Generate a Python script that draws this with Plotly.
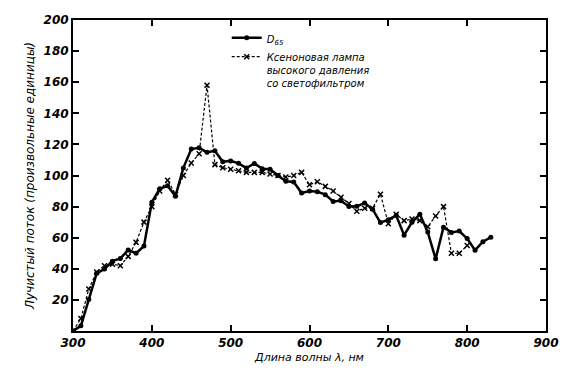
import plotly.graph_objects as go

wl_d65 = [300, 310, 320, 330, 340, 350, 360, 370, 380, 390, 400, 410, 420, 430, 440,
          450, 460, 470, 480, 490, 500, 510, 520, 530, 540, 550, 560, 570, 580, 590,
          600, 610, 620, 630, 640, 650, 660, 670, 680, 690, 700, 710, 720, 730, 740,
          750, 760, 770, 780, 790, 800, 810, 820, 830]
d65 = [0.0, 3.3, 20.2, 37.1, 39.9, 44.9, 46.6, 52.1, 50.0, 54.6, 82.8, 91.5, 93.4, 86.7, 104.9,
       117.0, 117.8, 114.9, 115.9, 108.8, 109.4, 107.8, 104.8, 107.7, 104.4, 104.0, 100.0, 96.3, 95.8, 88.7,
       90.0, 89.6, 87.7, 83.3, 83.7, 80.0, 80.2, 82.3, 78.3, 69.7, 71.6, 74.3, 61.6, 69.9, 75.1,
       63.6, 46.4, 66.8, 63.4, 64.3, 59.5, 52.0, 57.4, 60.3]

wl_xe = [300, 310, 320, 330, 340, 350, 360, 370, 380, 390, 400, 410, 420, 430, 440,
         450, 460, 470, 480, 490, 500, 510, 520, 530, 540, 550, 560, 570, 580, 590,
         600, 610, 620, 630, 640, 650, 660, 670, 680, 690, 700, 710, 720, 730, 740,
         750, 760, 770, 780, 790, 800]
xenon = [0.0, 8.0, 27.0, 38.0, 42.0, 43.0, 42.0, 48.0, 57.0, 70.0, 80.0, 90.0, 97.0, 88.0, 100.0,
         108.0, 114.0, 158.0, 107.0, 105.0, 104.0, 103.0, 102.0, 102.0, 102.0, 101.0, 100.0, 99.0, 100.0, 102.0,
         94.0, 96.0, 93.0, 90.0, 86.0, 82.0, 77.0, 79.0, 79.0, 88.0, 69.0, 75.0, 71.0, 72.0, 71.0,
         67.0, 74.0, 80.0, 50.0, 50.0, 55.0]

x_ticks = [300, 400, 500, 600, 700, 800, 900]
y_ticks = [20, 40, 60, 80, 100, 120, 140, 160, 180, 200]

name_d65 = "D<sub>65</sub>"
name_xe = "Ксеноновая лампа<br>высокого давления<br>со светофильтром"
x_title = "Длина волны λ, нм"
y_title = "Лучистый поток (произвольные единицы)"

fig = go.Figure()
fig.add_trace(go.Scatter(
    x=wl_d65, y=d65, mode="lines+markers", name=name_d65,
    line=dict(color="black", width=2.5),
    marker=dict(symbol="circle", size=5, color="black"),
))
fig.add_trace(go.Scatter(
    x=wl_xe, y=xenon, mode="lines+markers", name=name_xe,
    line=dict(color="black", width=1.2, dash="3px,2px"),
    marker=dict(symbol="x-thin", size=5, color="black", line=dict(color="black", width=1.5)),
))

tick_font = dict(family="DejaVu Sans", size=12, color="black", weight="bold", style="italic")
title_font = dict(family="DejaVu Sans", size=11, color="black", style="italic")

fig.update_layout(
    width=586, height=372,
    margin=dict(l=65, r=48, t=5, b=49),
    paper_bgcolor="white", plot_bgcolor="white",
    showlegend=True,
    legend=dict(
        x=0.325, y=0.985, xanchor="left", yanchor="top",
        bgcolor="rgba(0,0,0,0)", borderwidth=0,
        font=dict(family="DejaVu Sans", size=10, color="black", style="italic"),
        itemwidth=30, tracegroupgap=0, valign="top",
    ),
    xaxis=dict(
        range=[300, 900], tickvals=x_ticks, ticktext=[str(v) for v in x_ticks],
        ticks="inside", ticklen=6, tickwidth=1.5, tickcolor="black",
        showline=True, linecolor="black", linewidth=2, mirror="ticks",
        showgrid=False, zeroline=False, tickfont=tick_font,
        title=dict(text=x_title, font=title_font, standoff=4),
    ),
    yaxis=dict(
        range=[0, 200], tickvals=y_ticks, ticktext=[str(v) for v in y_ticks],
        ticks="inside", ticklen=6, tickwidth=1.5, tickcolor="black",
        showline=True, linecolor="black", linewidth=2, mirror="ticks",
        showgrid=False, zeroline=False, tickfont=tick_font,
        title=dict(text=y_title, font=dict(family="DejaVu Sans", size=12, color="black", style="italic"), standoff=6),
    ),
)

fig.write_html("out.html")
